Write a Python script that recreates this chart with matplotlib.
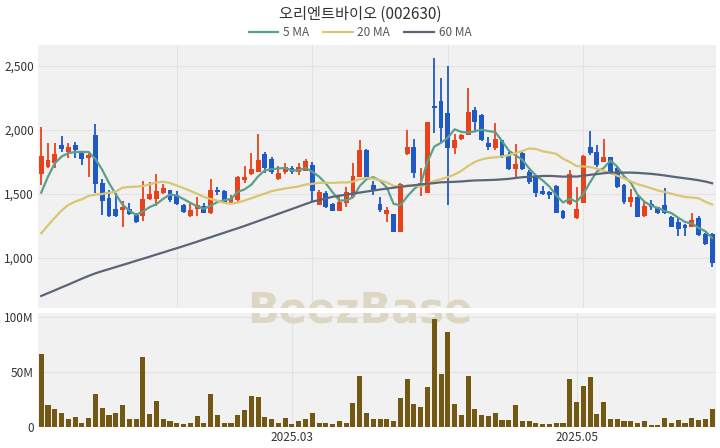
import numpy as np
import pandas as pd
import matplotlib
matplotlib.use("Agg")
import matplotlib.pyplot as plt

plt.rcParams['font.family'] = ['Noto Sans CJK KR', 'DejaVu Sans']

title = "오리엔트바이오 (002630)"

# daily candles (KRW)
opens = [1660, 1710, 1740, 1885, 1825, 1885, 1825, 1780, 1960, 1585,
         1465, 1380, 1375, 1380, 1335, 1325, 1460, 1460, 1505, 1530,
         1490, 1415, 1330, 1380, 1405, 1350, 1535, 1525, 1430, 1455,
         1610, 1660, 1675, 1815, 1770, 1615, 1675, 1705, 1668, 1682,
         1725, 1415, 1510, 1425, 1370, 1428, 1480, 1635, 1840, 1570,
         1420, 1345, 1345, 1205, 1810, 1865, 1558, 1510, 2190, 2230,
         2130, 1858, 1930, 1961, 2155, 2115, 1900, 1857, 1920, 1805,
         1693, 1818, 1675, 1640, 1525, 1518, 1560, 1370, 1422, 1310,
         1432, 1865, 1830, 1753, 1787, 1700, 1570, 1440, 1474, 1328,
         1425, 1396, 1414, 1323, 1284, 1258, 1245, 1310, 1188, 1190]
highs = [2020, 1900, 1900, 1950, 1895, 1910, 1830, 1820, 2050, 1620,
         1530, 1505, 1445, 1430, 1350, 1605, 1590, 1660, 1575, 1535,
         1520, 1420, 1440, 1475, 1430, 1615, 1555, 1530, 1490, 1640,
         1720, 1820, 1970, 1830, 1790, 1715, 1745, 1715, 1745, 1775,
         1752, 1530, 1525, 1430, 1485, 1557, 1740, 1922, 1850, 1600,
         1480, 1395, 1345, 1585, 2000, 1928, 1700, 2065, 2560, 2410,
         2500, 1966, 1968, 2330, 2177, 2125, 1948, 2052, 1925, 1830,
         1890, 1825, 1690, 1650, 1560, 1526, 1570, 1375, 1690, 1552,
         1805, 1995, 1883, 1927, 1790, 1714, 1580, 1536, 1485, 1440,
         1450, 1400, 1545, 1330, 1310, 1262, 1349, 1328, 1195, 1195]
lows = [1570, 1700, 1700, 1830, 1780, 1780, 1725, 1630, 1505, 1335,
        1320, 1320, 1240, 1335, 1270, 1285, 1455, 1405, 1500, 1440,
        1410, 1350, 1320, 1330, 1350, 1345, 1490, 1430, 1420, 1440,
        1585, 1650, 1670, 1665, 1660, 1610, 1660, 1660, 1650, 1678,
        1440, 1410, 1390, 1365, 1365, 1400, 1475, 1630, 1630, 1490,
        1362, 1278, 1200, 1200, 1805, 1622, 1485, 1505, 1975, 1895,
        1414, 1812, 1922, 1958, 1995, 1915, 1840, 1840, 1780, 1685,
        1635, 1690, 1580, 1478, 1492, 1458, 1350, 1305, 1414, 1305,
        1428, 1805, 1714, 1750, 1665, 1545, 1425, 1400, 1318, 1318,
        1375, 1345, 1344, 1240, 1172, 1172, 1240, 1172, 1100, 927]
closes = [1800, 1765, 1810, 1855, 1865, 1845, 1770, 1805, 1580, 1445,
          1330, 1330, 1400, 1345, 1280, 1460, 1500, 1520, 1550, 1450,
          1420, 1360, 1375, 1415, 1355, 1530, 1515, 1440, 1465, 1630,
          1630, 1695, 1765, 1705, 1670, 1665, 1710, 1668, 1712, 1760,
          1520, 1518, 1400, 1370, 1440, 1518, 1640, 1845, 1635, 1520,
          1378, 1375, 1205, 1580, 1865, 1662, 1588, 2065, 2170, 2015,
          1857, 1922, 1960, 2143, 2065, 1922, 1865, 1927, 1787, 1693,
          1734, 1695, 1590, 1510, 1500, 1492, 1355, 1310, 1656, 1380,
          1797, 1818, 1727, 1792, 1675, 1558, 1440, 1474, 1323, 1406,
          1398, 1355, 1350, 1245, 1224, 1232, 1297, 1180, 1110, 963]
# volume in millions of shares
volumes = [66, 20, 16, 13, 7, 9, 4, 8.5, 30, 17.6,
           11, 12.7, 20, 7, 7, 64, 11.5, 24, 7, 5,
           4, 3, 4, 10, 3.6, 30, 11, 4, 4, 10.6,
           15, 28, 27, 9, 7, 4, 8, 2.4, 5, 7,
           13, 4, 3.6, 2.4, 5, 4, 21.5, 46, 13, 7,
           7, 7.6, 5, 26, 44, 21, 18, 36, 98, 48,
           86, 21, 11, 46, 16, 11, 10, 13, 6, 6,
           20, 5, 5, 4, 2.4, 3, 4, 3.6, 44, 23,
           37, 45, 12, 23, 7, 7, 5, 5, 4, 5,
           2, 1.5, 8, 4, 6, 4, 8.5, 6, 7, 16]

# moving average values before enough candles are on screen
ma5_head = [1510, 1635, 1740, 1792]
ma20_head = [1193, 1255, 1315, 1370, 1414, 1440, 1458, 1485, 1495, 1500,
             1510, 1518, 1549, 1555, 1557, 1562, 1575, 1590, 1596]
ma60_head = [703, 725, 747, 770, 792, 815, 838, 860, 880, 897,
             913, 929, 945, 961, 978, 994, 1010, 1027, 1043, 1060,
             1076, 1093, 1110, 1127, 1145, 1162, 1180, 1197, 1215, 1232,
             1250, 1269, 1288, 1307, 1326, 1345, 1364, 1383, 1402, 1421,
             1440, 1452, 1465, 1478, 1487, 1495, 1503, 1511, 1519, 1527,
             1535, 1542, 1549, 1556, 1562, 1568, 1574, 1580, 1585]

price_ticks = [1000, 1500, 2000, 2500]
vol_ticks = [0, 50, 100]
vol_tick_labels = ["0", "50M", "100M"]
month_pos = [37, 79]
month_labels = ["2025.03", "2025.05"]

up_color = "#e8421c"
down_color = "#1f5ac4"
vol_color = "#735814"
bg = "#f1f1f1"
grid_c = "#e2e2e2"

df = pd.DataFrame({"open": opens, "high": highs, "low": lows,
                   "close": closes, "vol": volumes})
x = np.arange(len(df))

ma5 = df["close"].rolling(5).mean().values
ma5[:len(ma5_head)] = ma5_head
ma20 = df["close"].rolling(20).mean().values
ma20[:len(ma20_head)] = ma20_head
ma60 = df["close"].rolling(60).mean().values
ma60[:len(ma60_head)] = ma60_head

fig = plt.figure(figsize=(7.2, 4.48), dpi=100)
ax = fig.add_axes([0.053, 0.3125, 0.9417, 0.587])
axv = fig.add_axes([0.053, 0.047, 0.9417, 0.254])

for a in (ax, axv):
    a.set_facecolor(bg)
    for s in a.spines.values():
        s.set_visible(False)
    a.tick_params(length=0, labelsize=8.5, labelcolor="#333333", pad=3)
    a.set_xlim(-0.45, len(df) - 0.4)

# candles
colors = np.where(df["close"] >= df["open"], up_color, down_color)
ax.vlines(x, df["low"], df["high"], colors=colors, linewidth=1.3, zorder=3)
body_lo = np.minimum(df["open"], df["close"])
body_h = np.maximum(np.abs(df["close"] - df["open"]), 6)
ax.bar(x, body_h, bottom=body_lo, width=0.72, color=colors, zorder=3)

ax.plot(x, ma5, color="#5aa08c", lw=1.6, zorder=4, label="5 MA")
ax.plot(x, ma20, color="#d8c670", lw=1.6, zorder=4, label="20 MA")
ax.plot(x, ma60, color="#5c6478", lw=1.6, zorder=4, label="60 MA")

ax.set_ylim(609, 2664)
ax.set_yticks(price_ticks)
ax.set_yticklabels([f"{v:,}" for v in price_ticks])
ax.set_xticks([20, 40, 60, 80])
ax.set_xticklabels([])
ax.grid(True, color=grid_c, linewidth=0.8, zorder=0)
ax.set_axisbelow(True)

# volume
axv.bar(x, df["vol"], width=0.75, color=vol_color, zorder=3)
axv.set_ylim(0, 103.5)
axv.set_yticks(vol_ticks)
axv.set_yticklabels(vol_tick_labels)
axv.set_xticks(month_pos)
axv.set_xticklabels(month_labels)
axv.grid(True, color=grid_c, linewidth=0.8, zorder=0)
axv.set_axisbelow(True)

# watermark, clipped to each panel
for a in (ax, axv):
    a.text(0.5, 0.308, "BeezBase", transform=fig.transFigure, ha="center",
           va="center", fontsize=30, fontweight="bold", color="#dcd7c3",
           family=["DejaVu Sans"], zorder=1, clip_on=True)

fig.text(0.5, 0.968, title, ha="center", va="center", fontsize=11,
         color="#333333")
fig.legend(loc="center", bbox_to_anchor=(0.5, 0.928), ncol=3, frameon=False,
           fontsize=8.5, handlelength=2.5, columnspacing=1.2, handletextpad=0.4,
           labelcolor="#555555")

fig.savefig("out.png", dpi=100, facecolor="white")
